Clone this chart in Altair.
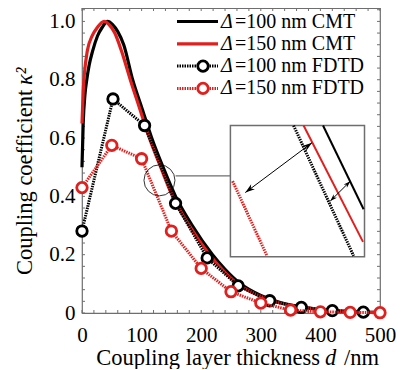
import altair as alt
import pandas as pd

# ---------------- data ----------------
cmt100_x = [0, 2, 5, 8, 12, 18, 26, 34, 43, 51, 60, 70, 85, 101, 117, 136, 157, 185, 219, 240, 266, 300, 330, 360, 400, 450, 500]
cmt100_y = [0.50, 0.65, 0.75, 0.80, 0.85, 0.90, 0.95, 0.98, 1.00, 0.99, 0.965, 0.92, 0.80, 0.70, 0.60, 0.50, 0.40, 0.30, 0.20, 0.15, 0.10, 0.06, 0.038, 0.024, 0.012, 0.005, 0.002]

cmt150_x = [0, 2, 4, 9, 17, 26, 37, 45, 55, 66, 81, 97, 113, 132, 152, 180, 214, 235, 261, 296, 326, 356, 400, 450, 500]
cmt150_y = [0.65, 0.76, 0.82, 0.90, 0.95, 0.98, 1.00, 0.99, 0.96, 0.90, 0.80, 0.70, 0.60, 0.50, 0.40, 0.30, 0.20, 0.15, 0.10, 0.06, 0.038, 0.024, 0.012, 0.005, 0.002]

fdtd100_x = [0, 52, 105, 157, 210, 262, 315, 368, 420, 472]
fdtd100_y = [0.281, 0.734, 0.643, 0.376, 0.189, 0.093, 0.042, 0.019, 0.008, 0.003]

fdtd150_x = [0, 50, 100, 150, 200, 250, 300, 350, 400, 450, 500]
fdtd150_y = [0.430, 0.575, 0.529, 0.281, 0.153, 0.073, 0.034, 0.010, 0.004, 0.002, 0.001]

x_tick_values = [0, 100, 200, 300, 400, 500]
y_tick_values = [0, 0.2, 0.4, 0.6, 0.8, 1.0]
x_minor = list(range(0, 501, 20))
y_minor = [round(i * 0.04, 2) for i in range(0, 27)]

legend_delta = ["100", "150", "100", "150"]
legend_method = ["CMT", "CMT", "FDTD", "FDTD"]
legend_color = ["#000000", "#e0201e", "#000000", "#e0201e"]

x_title_parts = ["Coupling layer thickness", "d", "/nm"]
y_title_parts = ["Coupling coefficient", "κ²"]

# inset annotation (data coordinates)
inset_box = {"x1": 249, "x2": 474, "y1": 0.193, "y2": 0.643}
inset_seg_x1 = [252.7, 355.0, 371.8, 404.4]
inset_seg_y1 = [0.452, 0.643, 0.643, 0.643]
inset_seg_x2 = [310.4, 455.7, 471.5, 472.5]
inset_seg_y2 = [0.196, 0.196, 0.244, 0.356]
inset_seg_color = ["#e0201e", "#000000", "#e0201e", "#000000"]
inset_seg_dotted = [True, True, False, False]

arrow_x1 = [274.0, 416.6]
arrow_y1 = [0.413, 0.384]
arrow_x2 = [385.9, 450.2]
arrow_y2 = [0.584, 0.452]
arrow_ang1 = [233, 225]
arrow_ang2 = [53, 45]
arrow_size = [130, 70]

circle_x, circle_y = [130], [0.455]
connector_x1, connector_x2, connector_y = [157], [249], [0.47]

# ---------------- chart ----------------
W, H = 298, 305
RED = "#e0201e"
FONT = "Liberation Serif"
TITLE_SIZE = 22.5
LEG_SIZE = 20

xs = alt.Scale(domain=[0, 500], nice=False, zero=False)
ys = alt.Scale(domain=[0, 1.046], nice=False, zero=False)

x_axis = alt.Axis(values=x_tick_values, title=None,
                  ticks=False, domain=False, grid=False, labelPadding=11,
                  labelFlush=False, format="d")
y_axis = alt.Axis(values=y_tick_values, title=None,
                  ticks=False, domain=False, grid=False, labelPadding=7,
                  labelFlush=False,
                  labelExpr="datum.value == 0 ? '0' : format(datum.value, '.1f')")


def X(f):
    return alt.X(f + ":Q", scale=xs, axis=x_axis)


def Y(f):
    return alt.Y(f + ":Q", scale=ys, axis=y_axis)


one = pd.DataFrame({"a": [0]})
layers = []

# inward ticks
xm = pd.DataFrame({"t": x_minor})
ym = pd.DataFrame({"t": y_minor})
tick_color = "#707070"
layers.append(alt.Chart(xm).mark_rule(color=tick_color, strokeWidth=1).encode(
    x=X("t"), y=alt.value(H), y2=alt.value(H - 3)))
layers.append(alt.Chart(xm).mark_rule(color=tick_color, strokeWidth=1).encode(
    x=X("t"), y=alt.value(0), y2=alt.value(3)))
layers.append(alt.Chart(ym).mark_rule(color=tick_color, strokeWidth=1).encode(
    y=Y("t"), x=alt.value(0), x2=alt.value(3)))
layers.append(alt.Chart(ym).mark_rule(color=tick_color, strokeWidth=1).encode(
    y=Y("t"), x=alt.value(W), x2=alt.value(W - 3)))

# inset
box = pd.DataFrame({k: [v] for k, v in inset_box.items()})
layers.append(alt.Chart(box).mark_rect(fill="white", stroke="#6e6e6e", strokeWidth=1.5).encode(
    x=X("x1"), x2="x2", y=Y("y1"), y2="y2"))
segs = pd.DataFrame({"x1": inset_seg_x1, "y1": inset_seg_y1, "x2": inset_seg_x2,
                     "y2": inset_seg_y2, "c": inset_seg_color, "dot": inset_seg_dotted})
for dotted in [True, False]:
    sub = segs[segs["dot"] == dotted]
    mk = dict(strokeWidth=3, strokeDash=[1.5, 1]) if dotted else dict(strokeWidth=2)
    layers.append(alt.Chart(sub).mark_rule(**mk).encode(
        x=X("x1"), y=Y("y1"), x2="x2", y2="y2", color=alt.Color("c:N", scale=None)))

arrows = pd.DataFrame({"x1": arrow_x1, "y1": arrow_y1, "x2": arrow_x2, "y2": arrow_y2})
layers.append(alt.Chart(arrows).mark_rule(color="black", strokeWidth=1).encode(
    x=X("x1"), y=Y("y1"), x2="x2", y2="y2"))
heads = pd.DataFrame({
    "x": arrow_x1 + arrow_x2, "y": arrow_y1 + arrow_y2,
    "ang": arrow_ang1 + arrow_ang2, "s": arrow_size + arrow_size})
arrow_path = "M0,0 L0.55,1.7 L0,1.2 L-0.55,1.7 Z"
layers.append(alt.Chart(heads).mark_point(shape=arrow_path, filled=True, color="black", opacity=1).encode(
    x=X("x"), y=Y("y"), angle=alt.Angle("ang:Q", scale=None), size=alt.Size("s:Q", scale=None)))

conn = pd.DataFrame({"x1": connector_x1, "x2": connector_x2, "y": connector_y})
layers.append(alt.Chart(conn).mark_rule(color="#6e6e6e", strokeWidth=1.2).encode(
    x=X("x1"), x2="x2", y=Y("y")))

# curves
def series_df(xv, yv):
    return pd.DataFrame({"d": xv, "k": yv})

layers.append(alt.Chart(series_df(cmt100_x, cmt100_y)).mark_line(
    color="black", strokeWidth=3.2, interpolate="monotone").encode(x=X("d"), y=Y("k")))
layers.append(alt.Chart(series_df(cmt150_x, cmt150_y)).mark_line(
    color=RED, strokeWidth=3.2, interpolate="monotone").encode(x=X("d"), y=Y("k")))

for xv, yv, col in [(fdtd100_x, fdtd100_y, "black"), (fdtd150_x, fdtd150_y, RED)]:
    df = series_df(xv, yv)
    layers.append(alt.Chart(df).mark_line(color=col, strokeWidth=3, strokeDash=[1.5, 1]).encode(
        x=X("d"), y=Y("k")))
    layers.append(alt.Chart(df).mark_point(shape="circle", filled=True, fill="white", stroke=col,
                                           strokeWidth=2.8, size=110, opacity=1).encode(
        x=X("d"), y=Y("k")))

# circle annotation
circ = pd.DataFrame({"x": circle_x, "y": circle_y})
layers.append(alt.Chart(circ).mark_point(shape="circle", filled=False, color="black",
                                         strokeWidth=0.8, size=961, opacity=1).encode(
    x=X("x"), y=Y("y")))

# legend
row_y = [13.5, 35.8, 58.1, 80.4]
for i in range(4):
    col = legend_color[i]
    dotted = legend_method[i] == "FDTD"
    mk = dict(strokeWidth=3, strokeDash=[1.5, 1]) if dotted else dict(strokeWidth=3.2)
    layers.append(alt.Chart(one).mark_rule(color=col, **mk).encode(
        x=alt.value(95), x2=alt.value(136), y=alt.value(row_y[i])))
    if dotted:
        layers.append(alt.Chart(one).mark_point(shape="circle", filled=True, fill="white", stroke=col,
                                                strokeWidth=2.8, size=110, opacity=1).encode(
            x=alt.value(121), y=alt.value(row_y[i])))
    layers.append(alt.Chart(one).mark_text(align="left", baseline="middle", font=FONT, fontSize=LEG_SIZE,
                                           fontStyle="italic", color="black").encode(
        x=alt.value(139), y=alt.value(row_y[i]), text=alt.value("Δ")))
    layers.append(alt.Chart(one).mark_text(align="left", baseline="middle", font=FONT, fontSize=LEG_SIZE,
                                           color="black").encode(
        x=alt.value(153), y=alt.value(row_y[i]),
        text=alt.value("=" + legend_delta[i] + " nm " + legend_method[i])))

# axis titles (mixed upright / italic text)
TY = H + 45
layers.append(alt.Chart(one).mark_text(align="right", baseline="middle", font=FONT,
                                       fontSize=TITLE_SIZE, color="black").encode(
    x=alt.value(238), y=alt.value(TY), text=alt.value(x_title_parts[0])))
layers.append(alt.Chart(one).mark_text(align="left", baseline="middle", font=FONT, fontStyle="italic",
                                       fontSize=TITLE_SIZE, color="black").encode(
    x=alt.value(243), y=alt.value(TY), text=alt.value(x_title_parts[1])))
layers.append(alt.Chart(one).mark_text(align="left", baseline="middle", font=FONT,
                                       fontSize=TITLE_SIZE, color="black").encode(
    x=alt.value(262), y=alt.value(TY), text=alt.value(x_title_parts[2])))

TX = -57
layers.append(alt.Chart(one).mark_text(align="left", baseline="middle", font=FONT, angle=270,
                                       fontSize=TITLE_SIZE, color="black").encode(
    x=alt.value(TX), y=alt.value(267), text=alt.value(y_title_parts[0])))
layers.append(alt.Chart(one).mark_text(align="left", baseline="middle", font=FONT, angle=270,
                                       fontStyle="italic", fontSize=TITLE_SIZE, color="black").encode(
    x=alt.value(TX), y=alt.value(77), text=alt.value(y_title_parts[1])))

chart = alt.layer(*layers).properties(
    width=W, height=H,
    padding={"left": 74, "top": 0, "right": 21, "bottom": 56},
    autosize=alt.AutoSizeParams(type="none"),
    background="white",
).configure_view(
    stroke="#6e6e6e", strokeWidth=1.2
).configure_axis(
    labelFont=FONT, labelFontSize=21, labelColor="black",
)

chart.save("out.html", embed_options={"renderer": "svg", "actions": False})
